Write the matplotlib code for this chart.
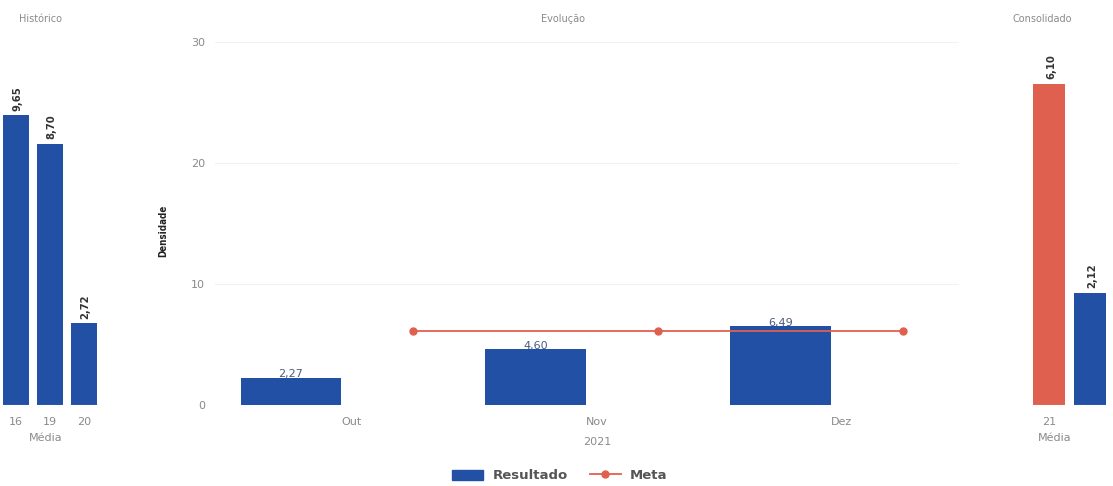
import matplotlib
matplotlib.use('Agg')
import matplotlib.pyplot as plt
from matplotlib.lines import Line2D
from matplotlib.patches import Patch
import numpy as np

plt.rcParams.update({
    'font.family': 'DejaVu Sans',
    'font.size': 8,
})

# Data
hist_labels = ['16', '19', '20']
hist_values = [9.65, 8.70, 2.72]

months = ['Out', 'Nov', 'Dez']
resultado = [2.27, 4.60, 6.49]
meta = [6.10, 6.10, 6.10]

cons_label = ['21']
cons_meta = [6.10]
cons_result = [2.12]

BLUE = '#2150a5'
RED = '#e0604f'
GRAY = '#8a8a8a'


def fmt(v):
    return f'{v:.2f}'.replace('.', ',')


def clean(ax):
    for s in ax.spines.values():
        s.set_visible(False)
    ax.tick_params(length=0, colors=GRAY, labelsize=8)
    ax.tick_params(axis='x', pad=8.5)


fig = plt.figure(figsize=(11.13, 4.86), dpi=100)
bottom, height = 0.1667, 0.747

# Left: Histórico
ax1 = fig.add_axes([0.0, bottom, 0.092, height])
x = np.arange(len(hist_labels))
ax1.bar(x, hist_values, width=0.76, color=BLUE)
for xi, v in zip(x, hist_values):
    ax1.text(xi + 0.05, v + 0.15, fmt(v), rotation=90, ha='center', va='bottom',
             fontsize=8, fontweight='bold', color='#333333', fontstretch='condensed')
ax1.set_xlim(-0.47, 2.55)
ax1.set_ylim(0, 12.1)
ax1.set_yticks([])
ax1.set_xticks(x)
ax1.set_xticklabels(hist_labels)
ax1.axhline(0, color='#eeeeee', lw=0.8)
ax1.set_xlabel('Média', color=GRAY, fontsize=8)
ax1.xaxis.set_label_coords(0.45, -0.078)
ax1.set_title('Histórico', color=GRAY, fontsize=7, pad=14, x=0.4)
clean(ax1)

# Middle: Evolução
ax2 = fig.add_axes([0.193, bottom, 0.669, height])
xm = np.arange(len(months))
ax2.bar(xm - 0.25, resultado, width=0.41, color=BLUE, zorder=2)
ax2.plot(xm + 0.25, meta, color=RED, lw=1.3, marker='o', markersize=5, zorder=3)
for xi, v in zip(xm, resultado):
    ax2.text(xi - 0.25, v - 0.1, fmt(v), ha='center', va='bottom',
             fontsize=8, color='#4a5a80', zorder=4)
ax2.set_xlim(-0.56, 2.48)
ax2.set_ylim(0, 30)
ax2.set_yticks([0, 10, 20, 30])
ax2.set_xticks(xm)
ax2.set_xticklabels(months)
ax2.grid(axis='y', color='#f2f2f2', lw=0.8, zorder=0)
ax2.set_xlabel('2021', color=GRAY, fontsize=8)
ax2.xaxis.set_label_coords((1 + 0.56) / 3.04, -0.088)
ax2.set_ylabel('Densidade', fontsize=7, fontweight='bold', color='#222222',
               fontstretch='condensed')
ax2.yaxis.set_label_coords(-0.062, 0.48)
ax2.tick_params(axis='y', pad=7)
ax2.set_title('Evolução', color=GRAY, fontsize=7, pad=14, x=0.467)
clean(ax2)

# Right: Consolidado
ax3 = fig.add_axes([0.912, bottom, 0.088, height])
ax3.bar([0], cons_meta, width=0.78, color=RED)
ax3.bar([1], cons_result, width=0.78, color=BLUE)
for xi, v in zip([0, 1], cons_meta + cons_result):
    ax3.text(xi + 0.05, v + 0.1, fmt(v), rotation=90, ha='center', va='bottom',
             fontsize=8, fontweight='bold', color='#333333', fontstretch='condensed')
ax3.set_xlim(-0.83, 1.56)
ax3.set_ylim(0, 6.9)
ax3.set_yticks([])
ax3.set_xticks([0])
ax3.set_xticklabels(cons_label)
ax3.axhline(0, color='#eeeeee', lw=0.8)
ax3.set_xlabel('Média', color=GRAY, fontsize=8)
ax3.xaxis.set_label_coords(0.4, -0.078)
ax3.set_title('Consolidado', color=GRAY, fontsize=7, pad=14, x=0.28)
clean(ax3)

# Legend
handles = [Patch(facecolor=BLUE, edgecolor=BLUE),
           Line2D([0], [0], color=RED, lw=1.3, marker='o', markersize=5)]
leg = fig.legend(handles, ['Resultado', 'Meta'], loc='lower center',
                 bbox_to_anchor=(0.503, -0.012), ncol=2, frameon=False,
                 handlelength=2.8, handleheight=1.0, columnspacing=2.0,
                 handletextpad=0.8)
for t in leg.get_texts():
    t.set_fontweight('bold')
    t.set_color('#555555')
    t.set_fontsize(9.5)

plt.savefig('out.png', dpi=100)
plt.close()
